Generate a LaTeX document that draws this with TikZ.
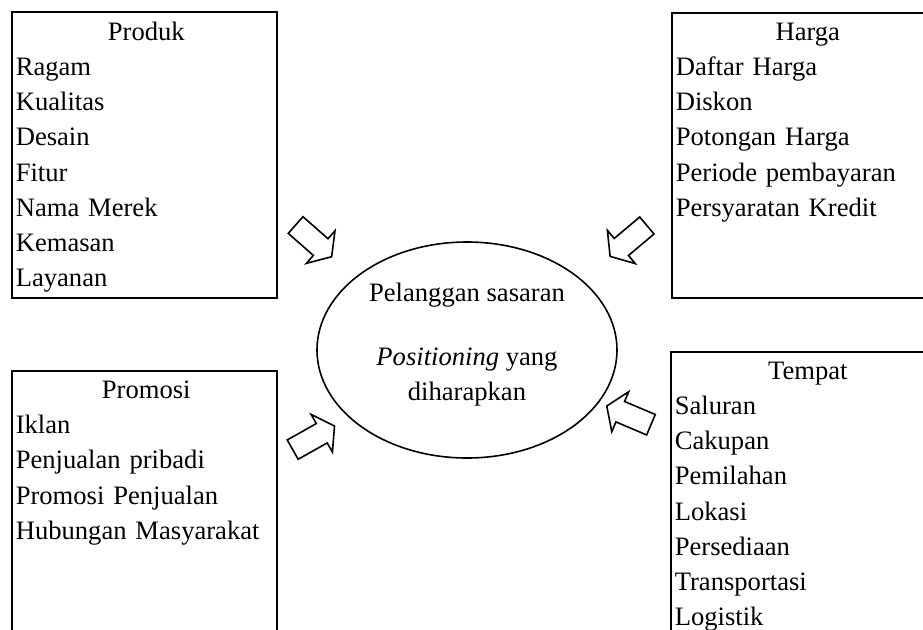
\documentclass[tikz,border=0pt]{standalone}
\usepackage{fontspec}
\setmainfont{Liberation Serif}
\usepackage{tikz}
\usetikzlibrary{shapes, arrows.meta, positioning}

\begin{document}
\begin{tikzpicture}[x=0.5pt, y=-0.5pt, line width=0.8pt,
    mixbox/.style={draw, line width=0.9pt, anchor=north west, inner sep=0pt},
    mixlist/.style={align=left, inner xsep=1pt, inner ysep=0pt, text width=#1,
      font=\fontsize{13.3pt}{17.6pt}\selectfont},
    blockarrow/.style={draw, single arrow, anchor=tail, inner xsep=0pt, inner ysep=5.15pt,
      minimum height=24pt,
      single arrow head extend=5.3pt, single arrow tip angle=112}]
  \clip (0,0) rectangle (923,629);
  \fill[white] (0,0) rectangle (923,629);

  % Produk
  \node[mixbox, minimum width=132.5pt, minimum height=143pt] (produk) at (11,11) {};
  \node[mixlist=130.5pt, below right=5pt and 1pt of produk.north west] (produk-txt) {
    {\centering Produk\par}
    Ragam\\
    Kualitas\\
    Desain\\
    Fitur\\
    Nama Merek\\
    Kemasan\\
    Layanan
  };

  % Harga
  \node[mixbox, minimum width=134pt, minimum height=142.5pt] (harga) at (671,12) {};
  \node[mixlist=132pt, below right=5pt and 1pt of harga.north west] (harga-txt) {
    {\centering Harga\par}
    Daftar Harga\\
    Diskon\\
    Potongan Harga\\
    Periode pembayaran\\
    Persyaratan Kredit
  };

  % Promosi
  \node[mixbox, minimum width=132.5pt, minimum height=160pt] (promosi) at (11,370) {};
  \node[mixlist=130.5pt, below right=5pt and 1pt of promosi.north west] (promosi-txt) {
    {\centering Promosi\par}
    Iklan\\
    Penjualan pribadi\\
    Promosi Penjualan\\
    Hubungan Masyarakat
  };

  % Tempat
  \node[mixbox, minimum width=135pt, minimum height=160pt] (tempat) at (670,351) {};
  \node[mixlist=133pt, below right=5pt and 1pt of tempat.north west] (tempat-txt) {
    {\centering Tempat\par}
    Saluran\\
    Cakupan\\
    Pemilahan\\
    Lokasi\\
    Persediaan\\
    Transportasi\\
    Logistik
  };

  % Pelanggan sasaran
  \node[draw, ellipse, inner sep=0pt, minimum width=150pt, minimum height=108pt] (sasaran) at (467,350) {};
  \node[align=center, inner sep=0pt, anchor=north, font=\fontsize{13.3pt}{17.6pt}\selectfont] (sasaran-txt) at (467,282) {
    Pelanggan sasaran\\[14.5pt]
    \textit{Positioning} yang\\
    diharapkan
  };

  % Panah
  \node[blockarrow, rotate=-41.3] (panah-produk) at (295,224.5) {};
  \node[blockarrow, rotate=-140] (panah-harga) at (647.5,225) {};
  \node[blockarrow, rotate=29.4] (panah-promosi) at (292,450) {};
  \node[blockarrow, rotate=157.1] (panah-tempat) at (651.7,425) {};
\end{tikzpicture}
\end{document}
